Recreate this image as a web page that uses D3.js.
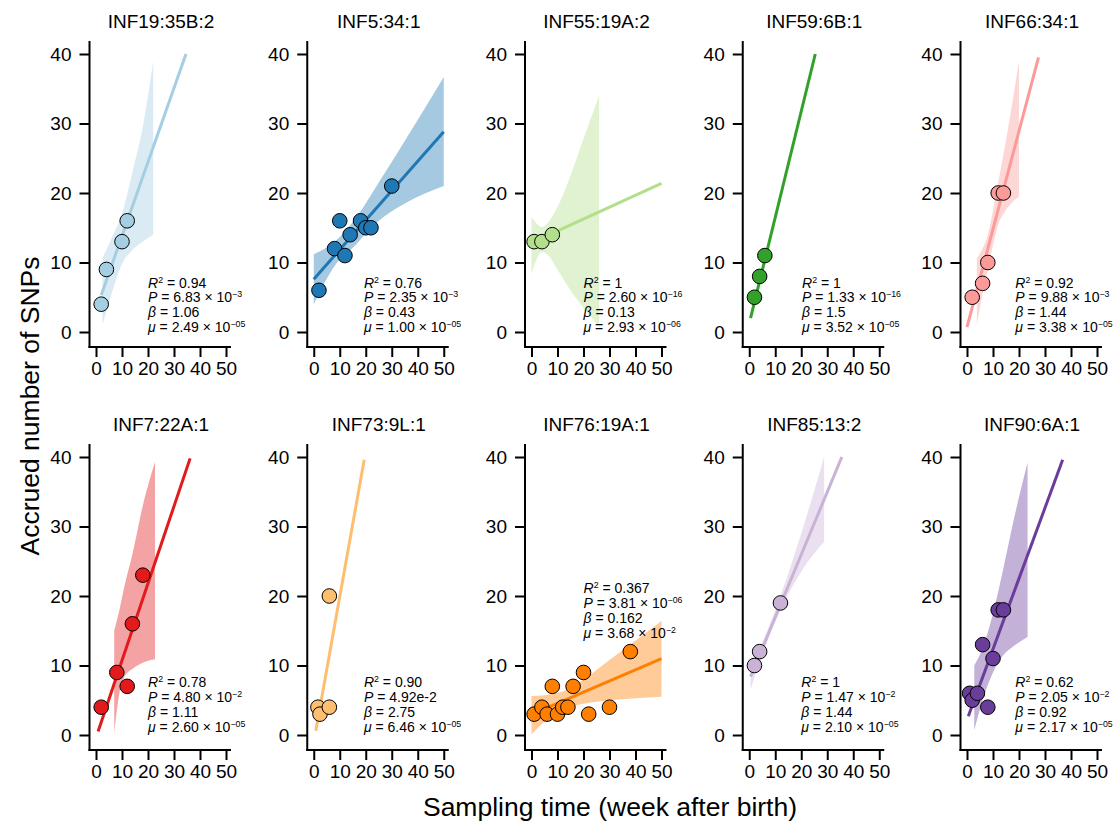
<!DOCTYPE html>
<html>
<head>
<meta charset="utf-8">
<script src="https://cdn.jsdelivr.net/npm/d3@7"></script>
<style>
  body { margin: 0; background: #fff; }
  svg { display: block; font-family: "Liberation Sans", Arial, Helvetica, sans-serif; }
</style>
</head>
<body>
<svg id="chart" width="1116" height="821"></svg>
<script>
// ---------------- data ----------------
const panelNames = ["INF19:35B:2","INF5:34:1","INF55:19A:2","INF59:6B:1","INF66:34:1",
                    "INF7:22A:1","INF73:9L:1","INF76:19A:1","INF85:13:2","INF90:6A:1"];

const pointsX = [
  [2,4,10,12],
  [2,8,10,12,14,18,20,22,30],
  [1,4,8],
  [2,4,6],
  [2,6,8,12,14],
  [2,8,12,14,18],
  [1.6,2.4,6,6],
  [1,4,6,8,10,12,14,16,20,22,30,38],
  [2,4,12],
  [1,2,4,6,8,10,12,14]
];
const pointsY = [
  [4,9,13,16],
  [6,12,16,11,14,16,15,15,21],
  [13,13,14],
  [5,8,11],
  [5,7,10,20,20],
  [4,9,7,16,23],
  [4,3,4,20],
  [3,4,3,7,3,4,4,7,9,3,4,12],
  [10,12,19],
  [6,5,6,13,4,11,18,18]
];

// fitted line end points [x1, y1, x2, y2]
const fitLines = [
  [2,5.3,34.6,40],
  [0,7.6,50,28.8],
  [1,13,50,21.4],
  [0.5,2,25.4,40],
  [0,0.7,27.5,39.5],
  [0.8,0.5,36.2,39.8],
  [0.8,0.6,19.4,39.6],
  [1,3.1,50,11],
  [0.5,8.4,35.6,40],
  [0.5,2.7,36.8,39.6]
];

// confidence bands
const bandX = [
  [2.5,6,10,14,18,22],
  [0,8,16,25,35,50],
  [0,2,4,6,10,15,20,26],
  [],
  [3.8,6,8,10,12,14,17,20],
  [7,9,11,14,18,22.7],
  [],
  [0,8,14,20,30,40,50],
  [0.5,4,12,20,28.8],
  [2.8,6,10,14,18,23.3]
];
const bandHi = [
  [10.6,13.5,17,23,29.5,39],
  [11.2,13,16.3,21.5,27.5,36.7],
  [16.6,15.6,15.1,15.6,18,22.5,27.8,34],
  [],
  [10.6,12,14,17.5,21.5,25.5,32,39],
  [15,18,21.5,26,33,39.3],
  [],
  [5.6,5.9,6.6,8,10.8,13.6,16.4],
  [10,12.5,20,29,40],
  [10,12.5,17.5,24,31,39.2]
];
const bandLo = [
  [1,5.5,9.8,11.8,13,14],
  [4,9.5,12.5,16,18.5,21],
  [8.3,10.5,11.5,11.2,9,6,3.5,0.8],
  [],
  [1,5.5,9,12.5,15.5,17,18.5,19.5],
  [0.3,6,8.4,9.5,10.4,10.9],
  [],
  [0.1,2.8,3.9,4.5,5,5.3,5.5],
  [6.5,10.5,18,23.5,27.8],
  [0.7,5,9,11.5,12.8,14.1]
];

// statistics
const statR2   = ["0.94","0.76","1","1","0.92","0.78","0.90","0.367","1","0.62"];
const statPm   = ["6.83","2.35","2.60","1.33","9.88","4.80","4.92e-2","3.81","1.47","2.05"];
const statPe   = ["−3","−3","−16","−16","−3","−2",null,"−06","−2","−2"];
const statBeta = ["1.06","0.43","0.13","1.5","1.44","1.11","2.75","0.162","1.44","0.92"];
const statMum  = ["2.49","1.00","2.93","3.52","3.38","2.60","6.46","3.68","2.10","2.17"];
const statMue  = ["−05","−05","−06","−05","−05","−05","−05","−2","−05","−05"];
// anchor of the statistics block (data units: x of left edge, y of last baseline)
const statAnchor = [[20,0],[19.3,0],[20,0],[20.3,0],[18.6,0],[20,0.5],[19.3,0.5],[20,14],[20,0.5],[18.6,0.5]];

const xTicks = [0,10,20,30,40,50];
const yTicks = [0,10,20,30,40];
const xTitle = "Sampling time (week after birth)";
const yTitle = "Accrued number of SNPs";

// ---------------- drawing ----------------
const colors = d3.schemePaired;
const svg = d3.select("#chart");

function tint(c, a) {
  const r = d3.rgb(c);
  return d3.rgb(255 + (r.r - 255) * a, 255 + (r.g - 255) * a, 255 + (r.b - 255) * a).formatHex();
}

panelNames.forEach((name, i) => {
  const row = Math.floor(i / 5), col = i % 5;
  const px0 = 96 + col * 217.75;
  const py0 = 332 + row * 403;
  const x = d3.scaleLinear().domain([0, 50]).range([px0, px0 + 130]);
  const y = d3.scaleLinear().domain([0, 40]).range([py0, py0 - 278]);
  const color = colors[i];
  const g = svg.append("g");

  // axes
  const yAxisX = px0 - 6.5;
  const xAxisY = py0 + 15;
  const ya = g.append("g").attr("transform", `translate(${yAxisX},0)`)
    .call(d3.axisLeft(y).tickValues(yTicks).tickSize(10).tickPadding(8).tickFormat(d3.format("d")));
  ya.select(".domain").remove();
  ya.selectAll(".tick line").attr("stroke", "#000").attr("stroke-width", 2);
  ya.selectAll(".tick text").attr("font-size", 19).attr("fill", "#000")
    .attr("font-family", "'Liberation Sans', Arial, sans-serif");
  g.append("line").attr("x1", yAxisX).attr("x2", yAxisX)
    .attr("y1", y(40) - 13).attr("y2", xAxisY + 1)
    .attr("stroke", "#000").attr("stroke-width", 2);

  const xa = g.append("g").attr("transform", `translate(0,${xAxisY})`)
    .call(d3.axisBottom(x).tickValues(xTicks).tickSize(10).tickPadding(5).tickFormat(d3.format("d")));
  xa.select(".domain").remove();
  xa.selectAll(".tick line").attr("stroke", "#000").attr("stroke-width", 2);
  xa.selectAll(".tick text").attr("font-size", 19).attr("fill", "#000")
    .attr("font-family", "'Liberation Sans', Arial, sans-serif");
  g.append("line").attr("x1", yAxisX - 1).attr("x2", x(50) + 5)
    .attr("y1", xAxisY).attr("y2", xAxisY)
    .attr("stroke", "#000").attr("stroke-width", 2);

  // title
  g.append("text").attr("x", x(25)).attr("y", py0 - 304)
    .attr("text-anchor", "middle").attr("font-size", 19).attr("fill", "#000")
    .text(name);

  // band
  if (bandX[i].length) {
    const bd = bandX[i].map((bx, k) => ({x: bx, lo: bandLo[i][k], hi: bandHi[i][k]}));
    const area = d3.area().x(d => x(d.x)).y0(d => y(d.lo)).y1(d => y(d.hi))
      .curve(d3.curveMonotoneX);
    g.append("path").attr("d", area(bd)).attr("fill", tint(color, 0.4)).attr("stroke", "none");
  }

  // fitted line
  const fl = fitLines[i];
  g.append("path")
    .attr("d", d3.line().x(d => x(d[0])).y(d => y(d[1]))([[fl[0], fl[1]], [fl[2], fl[3]]]))
    .attr("stroke", color).attr("stroke-width", 3).attr("fill", "none");

  // points
  g.selectAll("circle.pt").data(pointsX[i].map((px, k) => [px, pointsY[i][k]]))
    .enter().append("circle").attr("class", "pt")
    .attr("cx", d => x(d[0])).attr("cy", d => y(d[1])).attr("r", 7.3)
    .attr("fill", color).attr("stroke", "#000").attr("stroke-width", 1);

  // stats
  const ax = x(statAnchor[i][0]);
  const ay = y(statAnchor[i][1]);
  const lh = 14.8;
  const fs = 14, sfs = 8.8;
  const st = g.append("g").attr("font-size", fs).attr("fill", "#000");
  function line(k) { return st.append("text").attr("x", ax).attr("y", ay - (3 - k) * lh); }
  let t = line(0);
  t.append("tspan").attr("font-style", "italic").text("R");
  t.append("tspan").attr("font-size", sfs).attr("dy", -5).text("2");
  t.append("tspan").attr("dy", 5).text(" = " + statR2[i]);
  t = line(1);
  t.append("tspan").attr("font-style", "italic").text("P");
  if (statPe[i]) {
    t.append("tspan").text(" = " + statPm[i] + " × 10");
    t.append("tspan").attr("font-size", sfs).attr("dy", -5).text(statPe[i]);
  } else {
    t.append("tspan").text(" = " + statPm[i]);
  }
  t = line(2);
  t.append("tspan").attr("font-style", "italic").text("β");
  t.append("tspan").text(" = " + statBeta[i]);
  t = line(3);
  t.append("tspan").attr("font-style", "italic").text("μ");
  t.append("tspan").text(" = " + statMum[i] + " × 10");
  t.append("tspan").attr("font-size", sfs).attr("dy", -5).text(statMue[i]);
});

// axis titles
svg.append("text").attr("transform", "translate(39,406) rotate(-90)")
  .attr("text-anchor", "middle").attr("font-size", 26.5).attr("fill", "#000").text(yTitle);
svg.append("text").attr("x", 610).attr("y", 816)
  .attr("text-anchor", "middle").attr("font-size", 26.5).attr("fill", "#000").text(xTitle);
</script>
</body>
</html>
